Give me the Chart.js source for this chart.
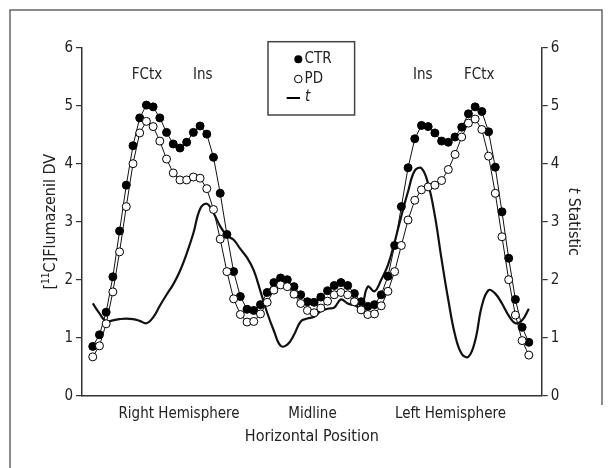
<!DOCTYPE html>
<html><head><meta charset="utf-8">
<script src="https://cdn.jsdelivr.net/npm/chart.js@4.4.0/dist/chart.umd.min.js"></script>
<style>html,body{margin:0;padding:0;background:#fff}#wrap{width:611px;height:468px;position:relative}</style>
</head><body><div id="wrap"><canvas id="c" width="611" height="468"></canvas></div>
<script>
// ---- data ----
const ctrValues = [0.85,1.05,1.44,2.05,2.84,3.63,4.31,4.79,5.01,4.98,4.79,4.54,4.34,4.27,4.37,4.54,4.65,4.51,4.11,3.49,
  2.78,2.14,1.71,1.49,1.47,1.57,1.78,1.95,2.03,2.00,1.88,1.74,1.62,1.61,1.70,1.81,1.90,1.95,1.90,1.76,
  1.62,1.54,1.57,1.74,2.06,2.59,3.26,3.93,4.43,4.66,4.64,4.53,4.39,4.37,4.46,4.63,4.86,4.98,4.90,4.55,
  3.94,3.17,2.37,1.66,1.18,0.92];
const pdValues = [0.67,0.86,1.24,1.79,2.48,3.26,4.00,4.53,4.73,4.64,4.39,4.08,3.84,3.72,3.72,3.77,3.75,3.57,3.21,2.70,
  2.14,1.67,1.40,1.27,1.28,1.41,1.61,1.82,1.91,1.88,1.75,1.59,1.47,1.43,1.51,1.63,1.74,1.78,1.74,1.62,
  1.48,1.40,1.41,1.55,1.80,2.14,2.59,3.03,3.37,3.55,3.60,3.63,3.71,3.90,4.16,4.46,4.70,4.77,4.59,4.13,
  3.49,2.74,2.00,1.39,0.95,0.70];
const tValues = [1.59,1.42,1.28,1.30,1.32,1.33,1.32,1.29,1.25,1.35,1.55,1.74,1.92,2.15,2.45,2.80,3.22,3.31,3.15,2.92,
  2.76,2.69,2.53,2.38,2.16,1.80,1.43,1.12,0.86,0.88,1.05,1.28,1.33,1.36,1.46,1.50,1.52,1.66,1.59,1.56,
  1.52,1.88,1.80,2.00,2.25,2.65,3.10,3.52,3.88,3.92,3.65,3.10,2.35,1.65,1.05,0.72,0.67,0.95,1.55,1.82,
  1.76,1.59,1.38,1.25,1.30,1.50];
const yTicks = [0,1,2,3,4,5,6];
const xTickLabels = ['Right Hemisphere','Midline','Left Hemisphere'];
const xTickPositions = [12.86,32.76,53.33];
const regionLabels = ['FCtx','Ins','Ins','FCtx'];
const regionPositions = [8.1,16.4,49.2,57.6];
const regionLevel = 5.53;
const seriesNames = ['CTR','PD','t'];

const FONT = '"Liberation Sans Narrow","DejaVu Sans Condensed","Roboto Condensed",sans-serif';
const TXT = '#222';
const AX = '#333';

const toXY = arr => arr.map((v,i)=>({x:i,y:v}));

const decor = {
  id:'decor',
  beforeDraw(chart){
    const c = chart.ctx;
    c.save();
    c.strokeStyle = '#666'; c.lineWidth = 1.5;
    c.beginPath();
    c.moveTo(10,468); c.lineTo(10,10); c.lineTo(602,10); c.lineTo(602,405);
    c.stroke();
    c.restore();
  },
  afterDraw(chart){
    const c = chart.ctx, xs = chart.scales.x, ys = chart.scales.y;
    c.save();
    c.fillStyle = TXT;
    c.font = '15px '+FONT;
    c.textAlign='center'; c.textBaseline='middle';
    regionLabels.forEach((l,i)=>c.fillText(l, xs.getPixelForValue(regionPositions[i]), ys.getPixelForValue(regionLevel)));
    // x axis title
    c.font = '16px '+FONT;
    c.fillText('Horizontal Position', (chart.chartArea.left+chart.chartArea.right)/2, 437);
    // left title with superscript
    c.save();
    c.translate(50.5, (chart.chartArea.top+chart.chartArea.bottom)/2);
    c.rotate(-Math.PI/2);
    const big='16px '+FONT, small='10px '+FONT;
    c.font=big; const w1=c.measureText('[').width, w3=c.measureText('C]Flumazenil DV').width;
    c.font=small; const w2=c.measureText('11').width;
    let x0 = -(w1+w2+w3)/2;
    c.textAlign='left';
    c.font=big; c.fillText('[',x0,0);
    c.font=small; c.fillText('11',x0+w1,-4);
    c.font=big; c.fillText('C]Flumazenil DV',x0+w1+w2,0);
    c.restore();
    // right title
    c.save();
    c.translate(573, (chart.chartArea.top+chart.chartArea.bottom)/2);
    c.rotate(Math.PI/2);
    const it='italic 16px '+FONT;
    c.font=it; const a=c.measureText('t').width;
    c.font=big; const b=c.measureText(' Statistic').width;
    let s=-(a+b)/2; c.textAlign='left';
    c.font=it; c.fillText('t',s,0);
    c.font=big; c.fillText(' Statistic',s+a,0);
    c.restore();
    // legend box
    c.strokeStyle='#444'; c.lineWidth=1.5;
    c.strokeRect(268,41.7,86.6,73.3);
    c.font='15px '+FONT; c.textAlign='left';
    c.fillStyle='#000';
    c.beginPath(); c.arc(298.3,59.3,4,0,Math.PI*2); c.fill();
    c.fillStyle=TXT; c.fillText(seriesNames[0],304.5,59.5);
    c.beginPath(); c.arc(298.3,79,3.8,0,Math.PI*2); c.fillStyle='#fff'; c.fill();
    c.strokeStyle='#000'; c.lineWidth=1; c.stroke();
    c.fillStyle=TXT; c.fillText(seriesNames[1],304.5,79);
    c.beginPath(); c.moveTo(286.7,98); c.lineTo(300,98); c.lineWidth=2; c.strokeStyle='#000'; c.stroke();
    c.font='italic 15px '+FONT; c.fillText(seriesNames[2],305,97.5);
    c.restore();
  }
};

new Chart(document.getElementById('c'), {
  type:'line',
  data:{datasets:[
    {label:'PD', data:toXY(pdValues), order:0, borderColor:'#111', borderWidth:1, tension:0,
     pointRadius:4, pointBackgroundColor:'#fff', pointBorderColor:'#000', pointBorderWidth:1, yAxisID:'y'},
    {label:'CTR', data:toXY(ctrValues), order:1, borderColor:'#111', borderWidth:1, tension:0,
     pointRadius:4, pointBackgroundColor:'#000', pointBorderColor:'#000', pointBorderWidth:1, yAxisID:'y'},
    {label:'t', data:toXY(tValues), order:2, borderColor:'#111', borderWidth:2.2, tension:0.4,
     pointRadius:0, yAxisID:'y2'}
  ]},
  options:{
    responsive:false, animation:false, devicePixelRatio:1,
    layout:{padding:{top:47.7,left:0,right:0,bottom:0}},
    plugins:{legend:{display:false}, tooltip:{enabled:false}},
    scales:{
      x:{type:'linear', min:-1.6, max:66.92,
        afterFit(s){s.height=468-395.7;},
        afterBuildTicks(s){s.ticks = xTickPositions.map(v=>({value:v}));},
        ticks:{autoSkip:false, maxRotation:0, padding:1, color:TXT, font:{family:FONT,size:15},
          callback:(v,i)=>xTickLabels[i]},
        grid:{display:false}, border:{display:true,color:AX,width:1.5}},
      y:{position:'left', min:0, max:6,
        afterFit(s){s.width=82;},
        afterBuildTicks(s){s.ticks = yTicks.map(v=>({value:v}));},
        ticks:{padding:3, color:TXT, font:{family:FONT,size:15}},
        grid:{display:true, drawOnChartArea:false, drawTicks:true, tickLength:6, color:AX, lineWidth:1.2},
        border:{display:true,color:AX,width:1.5}},
      y2:{position:'right', min:0, max:6,
        afterFit(s){s.width=611-541.7;},
        afterBuildTicks(s){s.ticks = yTicks.map(v=>({value:v}));},
        ticks:{padding:3, color:TXT, font:{family:FONT,size:15}},
        grid:{display:true, drawOnChartArea:false, drawTicks:true, tickLength:6, color:AX, lineWidth:1.2},
        border:{display:true,color:AX,width:1.5}}
    }
  },
  plugins:[decor]
});
</script></body></html>
